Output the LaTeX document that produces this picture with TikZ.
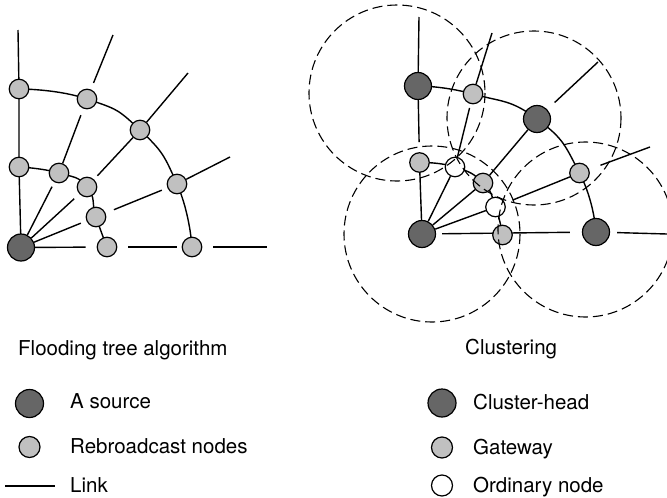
\documentclass[tikz,border=0pt]{standalone}
\usepackage{fontspec}
\setmainfont{TeX Gyre Heros}
\usetikzlibrary{backgrounds,calc}
\definecolor{headfill}{RGB}{102,102,102}
\definecolor{gwfill}{RGB}{192,192,192}
\begin{document}
\begin{tikzpicture}[x=1pt,y=-1pt,
  link/.style={line width=1.4pt},
  headnode/.style={circle,draw,line width=1.2pt,fill=headfill,minimum size=27pt,inner sep=0pt},
  gwnode/.style={circle,draw,line width=1.2pt,fill=gwfill,minimum size=19.5pt,inner sep=0pt},
  ordnode/.style={circle,draw,line width=1.2pt,fill=white,minimum size=19.5pt,inner sep=0pt},
  radio/.style={dash pattern=on 10pt off 5pt,line width=1.1pt},
  txt/.style={anchor=base west,inner sep=0pt,font=\fontsize{20.5}{24}\selectfont}]
\useasboundingbox (0,0) rectangle (667,498);

% ---------- flooding tree ----------
\node[headnode] (src) at (21,247.5) {};
\node[gwnode] (L1) at (19,89) {};
\node[gwnode] (L2) at (87,99) {};
\node[gwnode] (L3) at (140,130) {};
\node[gwnode] (L4) at (177,184) {};
\node[gwnode] (L5) at (192,247) {};
\node[gwnode] (M1) at (19,167) {};
\node[gwnode] (M2) at (59,173) {};
\node[gwnode] (M3) at (87,187) {};
\node[gwnode] (M4) at (96,217) {};
\node[gwnode] (M5) at (107,247) {};
\coordinate (topL) at (18,30);
\coordinate (endA) at (113,35);
\coordinate (endB) at (188,73);
\coordinate (endC) at (230,157);
\coordinate (endD) at (267,247);

% ---------- clustering ----------
\node[headnode] (CH1) at (418,86) {};
\node[headnode] (CH2) at (537,119) {};
\node[headnode] (CH3) at (422,234) {};
\node[headnode] (CH4) at (596,232) {};
\node[gwnode] (G1) at (473,94) {};
\node[gwnode] (G2) at (419.5,162.5) {};
\node[gwnode] (G3) at (483,183) {};
\node[gwnode] (G4) at (579.5,173) {};
\node[gwnode] (G5) at (502.5,235) {};
\node[ordnode] (O1) at (455,167) {};
\node[ordnode] (O2) at (495.5,207) {};
\coordinate (topR) at (419,17);
\coordinate (rA) at (492,33);
\coordinate (rB) at (598,62);
\coordinate (rC) at (650,147);
\coordinate (rD) at (667,234);

\begin{pgfonlayer}{background}
\begin{scope}[link]
  % flooding tree links
  \draw (topL) -- (L1.center) -- (M1.center) -- (src.center);
  \draw plot[smooth,tension=0.9] coordinates {(L1.center) (L2.center) (L3.center) (L4.center) (L5.center)};
  \draw plot[smooth,tension=0.9] coordinates {(M1.center) (M2.center) (M3.center) (M4.center) (M5.center)};
  \draw[shorten >=11pt] (src) -- (M5);
  \draw[shorten <=11pt,shorten >=5pt] (M5) -- (L5);
  \draw[shorten <=11pt] (L5) -- (endD);
  \draw[shorten >=5pt] (src) -- (M2);
  \draw[shorten >=7pt] (M2) -- (L2);
  \draw[shorten <=7pt] (L2) -- (endA);
  \draw[shorten >=7pt] (src) -- (M3);
  \draw[shorten <=5pt] (M3) -- (L3);
  \draw (L3) -- (endB);
  \draw[shorten >=6pt] (src) -- (M4);
  \draw[shorten <=9pt,shorten >=6pt] (M4) -- (L4);
  \draw (L4) -- (endC);
  % clustering links
  \draw (topR) -- (CH1.center);
  \draw[shorten >=10pt] (CH1) -- (G2);
  \draw (G2.center) -- (CH3.center);
  \draw plot[smooth,tension=0.9] coordinates {(CH1.center) (G1.center) (CH2.center) (G4.center) (CH4.center)};
  \draw plot[smooth,tension=0.9] coordinates {(G2.center) (O1.center) (G3.center) (O2.center) (G5.center)};
  \draw[shorten <=6pt,shorten >=12pt] (CH3) -- (CH4);
  \draw[shorten <=7pt] (CH4) -- (rD);
  \draw (CH3) -- (O1);
  \draw[shorten >=4pt] (O1) -- (G1);
  \draw (G1) -- (rA);
  \draw (CH3) -- (G3);
  \draw (G3) -- (CH2);
  \draw[shorten <=10pt] (CH2) -- (rB);
  \draw (CH3) -- (O2);
  \draw[shorten <=8pt] (O2) -- (G4);
  \draw[shorten <=12pt] (G4) -- (rC);
\end{scope}
\end{pgfonlayer}

% cluster ranges
\draw[radio] (397,93) circle[radius=88];
\draw[radio] (534,118) circle[radius=87];
\draw[radio] (432,234) circle[radius=88];
\draw[radio] (585.5,229.5) circle[radius=87.5];

% captions
\node[txt] (capL) at (18,355) {Flooding tree algorithm};
\node[txt] (capR) at (465,354.5) {Clustering};

% legends
\node[headnode,minimum size=28pt] (kSrc) at (29.5,403.5) {};
\node[txt] (tSrc) at (70,408.5) {A source};
\node[gwnode,minimum size=21pt] (kReb) at (29.5,447) {};
\node[txt] (tReb) at (70,453) {Rebroadcast nodes};
\coordinate (kLinkA) at (5,486);
\coordinate (kLinkB) at (55,486);
\draw[link] (kLinkA) -- (kLinkB);
\node[txt] (tLink) at (70,492) {Link};

\node[headnode,minimum size=28pt] (kCH) at (442,403) {};
\node[txt] (tCH) at (473,409) {Cluster-head};
\node[gwnode,minimum size=21pt] (kGW) at (442,447.5) {};
\node[txt] (tGW) at (473,454) {Gateway};
\node[ordnode,minimum size=21pt] (kOrd) at (442,485.5) {};
\node[txt] (tOrd) at (473,492) {Ordinary node};
\end{tikzpicture}
\end{document}
